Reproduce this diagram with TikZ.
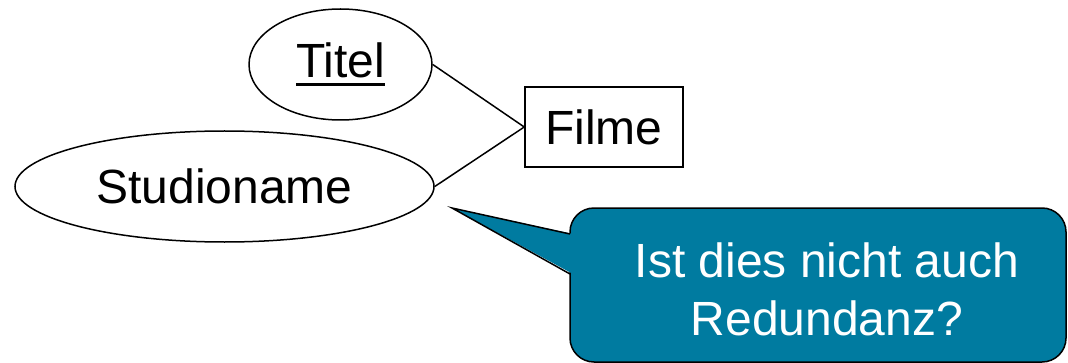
\documentclass[tikz,border=0pt]{standalone}
\usepackage{fontspec}
\setmainfont{Liberation Sans}
\usetikzlibrary{shapes.geometric}
\definecolor{blaugruen}{RGB}{0,123,160}
\newcommand{\schluessel}[1]{\setbox0\hbox{#1}\rlap{\rule[-4.5pt]{\wd0}{1.5pt}}\box0}
\tikzset{
  attribut/.style={draw,ellipse,line width=0.75pt,inner sep=0pt,font=\fontsize{24}{29}\selectfont},
  entitaet/.style={draw,rectangle,line width=0.75pt,minimum width=79pt,minimum height=40pt,font=\fontsize{24}{29}\selectfont},
  hinweis/.style={draw,fill=blaugruen,rectangle,rounded corners=12pt,line width=0.75pt,minimum width=248pt,minimum height=77pt},
  verbindung/.style={line width=0.75pt}
}
\begin{document}
\begin{tikzpicture}[x=0.5pt,y=-0.5pt]
    \useasboundingbox (0,0) rectangle (1068,363);
    \node[attribut,minimum width=91.5pt,minimum height=55.5pt] (titel) at (340.5,64.5) {\schluessel{Titel}};
    \node[attribut,minimum width=209.5pt,minimum height=55.5pt] (studio) at (224.5,186.5) {Studioname};
    \node[entitaet] (filme) at (604,127) {Filme};
    \draw[verbindung] (titel.east) -- (filme.west);
    \draw[verbindung] (studio.east) -- (filme.west);
    %sprechblase
    \node[hinweis] (blase) at (818,285) {};
    \coordinate (spitze) at (452,208);
    \coordinate (basisoben) at (570,234);
    \coordinate (basisunten) at (570,274);
    \fill[blaugruen] (spitze) -- ([xshift=1.5pt]basisoben) -- ([xshift=1.5pt]basisunten) -- cycle;
    \draw[verbindung] (basisoben) -- (spitze) -- (basisunten);
    \node[text=white,align=center,font=\fontsize{24}{29}\selectfont] (frage) at (827,289) {Ist dies nicht auch\\Redundanz?};
\end{tikzpicture}
\end{document}
